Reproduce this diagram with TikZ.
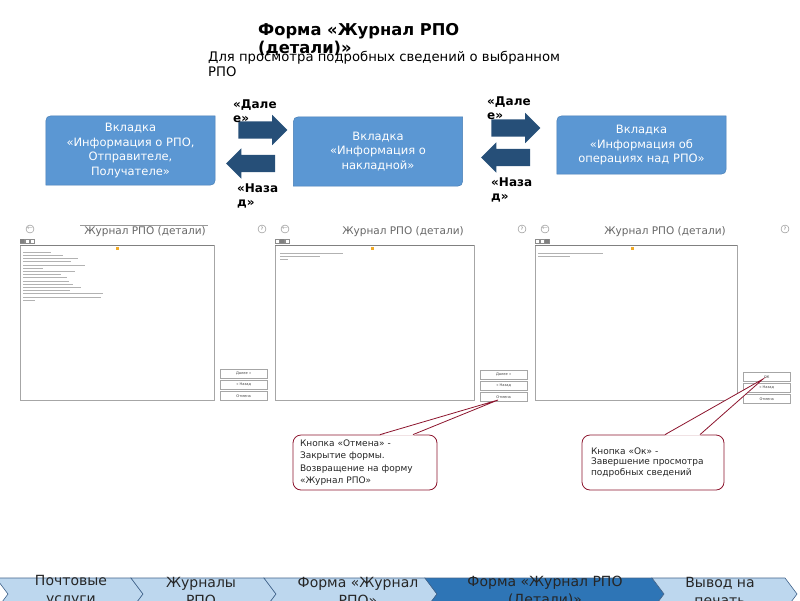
\documentclass[tikz,border=0pt]{standalone}
\usepackage{fontspec}
\setmainfont{DejaVu Sans}
\usepackage{xcolor}
\definecolor{tabBlue}{RGB}{91,151,211}
\definecolor{tabEdge}{RGB}{70,125,180}
\definecolor{arrowNavy}{RGB}{38,79,120}
\definecolor{noteRed}{RGB}{140,20,45}
\definecolor{crumbLight}{RGB}{189,215,238}
\definecolor{crumbDark}{RGB}{46,117,182}
\definecolor{crumbLine}{RGB}{65,100,140}
\definecolor{dotOrange}{RGB}{240,170,40}
\usepackage{tikz}
\usetikzlibrary{positioning,calc,shapes.arrows,backgrounds}

\begin{document}
\begin{tikzpicture}[
  tab/.style={text=white,align=center,
    font=\fontsize{11.5}{14.5}\selectfont,inner sep=0pt,minimum width=169pt},
  fwd/.style={single arrow,fill=arrowNavy,inner xsep=0pt,inner ysep=8.5pt,
    single arrow head extend=6.5pt,minimum height=49pt},
  bwd/.style={fwd,shape border rotate=180},
  hint/.style={font=\bfseries\fontsize{12}{14}\selectfont,align=left,inner sep=0pt,anchor=north west},
  formtitle/.style={font=\fontsize{10.5}{12}\selectfont,text=black!60,inner sep=0pt},
  icon/.style={circle,draw=black!50,line width=0.4pt,minimum size=8pt,inner sep=0pt,
    font=\fontsize{4.5}{4.5}\selectfont,text=black!60},
  btn/.style={draw=black!35,fill=white,line width=0.4pt,font=\fontsize{3.6}{4}\selectfont,
    text=black!75,inner sep=0pt,minimum width=47pt,minimum height=9pt,anchor=north west},
  textbar/.style={black!30,line width=0.9pt},
  callout/.style={draw=noteRed,fill=white,line width=0.8pt,rounded corners=8pt,
    align=left,font=\fontsize{9}{12.3}\selectfont,text=black!85,inner ysep=0pt},
  ptr/.style={noteRed,line width=0.8pt},
  crumb/.style={draw=crumbLine,line width=0.6pt},
  crumbtxt/.style={font=\fontsize{14}{18}\selectfont,align=center,inner sep=0pt,text=black!85},
  x=1pt,y=-1pt]

  \useasboundingbox (0,0) rectangle (800,600);
  \clip (0,0) rectangle (800,600);

  % heading
  \node[font=\bfseries\fontsize{16.3}{18}\selectfont,align=left,inner sep=0pt,anchor=north west]
    (formTitle) at (258,23) {Форма «Журнал РПО\\(детали)»};
  \node[font=\fontsize{13.2}{15}\selectfont,align=left,inner sep=0pt,anchor=north west]
    (formNote) at (208,51) {Для просмотра подробных сведений о выбранном\\РПО};

  % tabs of the form
  \node[tab,minimum height=69pt] (infoTab) at (130.5,150.5) {Вкладка\\«Информация о РПО,\\Отправителе,\\Получателе»};
  \node[tab,minimum height=69pt] (waybillTab) at (378,151.5) {Вкладка\\«Информация о\\накладной»};
  \node[tab,minimum height=58pt] (opsTab) at (641.5,145) {Вкладка\\«Информация об\\операциях над РПО»};
  \begin{scope}[on background layer]
    \foreach \t in {infoTab,waybillTab,opsTab}
      \filldraw[fill=tabBlue,draw=tabEdge,line width=0.5pt] (\t.south west)
        -- ($(\t.north west)+(0,11)$) .. controls (\t.north west) .. ($(\t.north west)+(11,0)$)
        -- (\t.north east) -- ($(\t.south east)+(0,-11)$)
        .. controls (\t.south east) .. ($(\t.south east)+(-11,0)$) -- cycle;
  \end{scope}

  \node[fwd] (next1) at (258.5,130) {};
  \node[bwd] (back1) at (255,163.5) {};
  \node[fwd] (next2) at (511.5,128) {};
  \node[bwd] (back2) at (510,157.5) {};
  \node[hint] (next1Lbl) at (233,100) {«Дале\\е»};
  \node[hint] (back1Lbl) at (237,184) {«Наза\\д»};
  \node[hint] (next2Lbl) at (487,97) {«Дале\\е»};
  \node[hint] (back2Lbl) at (491,178) {«Наза\\д»};

  % screenshots
  \foreach \p/\cx/\cw/\bx/\by/\tx/\first in {1/20/194/220/369/145/{Далее »},
      2/275/199/480/370/403/{Далее »},3/535/202/743/372/665/ОК}{
    \draw[black!35,line width=0.5pt] (\cx,245) rectangle ++(\cw,155);
    \draw[black!50,line width=0.9pt] (\cx,245) -- ++(\cw,0);
    \node[formtitle] (shotTitle\p) at (\tx,232) {Журнал РПО (детали)};
    \node[icon] (shotBack\p) at (\cx+10,229) {$\leftarrow$};
    \node[icon] (shotHelp\p) at (\bx+42,229) {?};
    \foreach \k in {0,1,2}
      \draw[black!45,line width=0.3pt] (\cx+5*\k,239) rectangle ++(4,4);
    \fill[black!50] (\cx+5*\p-5,239) rectangle ++(4,4);
    \fill[dotOrange] (\cx+96,247) rectangle ++(3,3);
    \node[btn] (nextBtn\p) at (\bx,\by) {\first};
    \node[btn] (backBtn\p) at (\bx,\by+11) {« Назад};
    \node[btn] (cancelBtn\p) at (\bx,\by+22) {Отмена};
  }
  \draw[black!40,line width=0.4pt] (80,225) -- (208,225);
  \foreach \w [count=\r] in {28,40,55,48,62,20,52,38,44,46,50,58,47,80,78,12}
    \draw[textbar] (23,249+3.2*\r) -- ++(\w,0);
  \foreach \w [count=\r] in {63,40,8}
    \draw[textbar] (280,250+3.3*\r) -- ++(\w,0);
  \foreach \w [count=\r] in {65,32}
    \draw[textbar] (538,250+3.3*\r) -- ++(\w,0);

  % notes
  \node[callout,text width=130pt,inner xsep=7pt,minimum height=55pt] (cancelNote) at (365,462.5)
    {Кнопка «Отмена» -\\Закрытие формы.\\Возвращение на форму\\«Журнал РПО»};
  \node[callout,text width=124pt,inner xsep=9pt,minimum height=55pt,font=\fontsize{9}{10.5}\selectfont]
    (okNote) at (653,462.5) {Кнопка «Ок» -\\Завершение просмотра\\подробных сведений};
  \coordinate (cancelTip) at (498,400);
  \coordinate (okTip) at (763,379);
  \fill[white] ([xshift=15pt,yshift=-1pt]cancelNote.north) -- (cancelTip) -- ([xshift=48pt,yshift=-1pt]cancelNote.north) -- cycle;
  \draw[ptr] ([xshift=15pt]cancelNote.north) -- (cancelTip) -- ([xshift=48pt]cancelNote.north);
  \fill[white] ([xshift=12pt,yshift=-1pt]okNote.north) -- (okTip) -- ([xshift=47pt,yshift=-1pt]okNote.north) -- cycle;
  \draw[ptr] ([xshift=12pt]okNote.north) -- (okTip) -- ([xshift=47pt]okNote.north);

  % breadcrumb
  \foreach \xa/\xb/\col in {-4/131/crumbLight,131/264/crumbLight,264/425/crumbLight,
      425/652/crumbDark,652/785/crumbLight}
    \draw[crumb,fill=\col] (\xa,578) -- (\xb,578) -- (\xb+12,594) -- (\xb,610)
      -- (\xa,610) -- (\xa+12,594) -- cycle;
  \node[crumbtxt] (crumb1) at (71,591) {Почтовые\\услуги};
  \node[crumbtxt] (crumb2) at (201,591) {Журналы\\РПО};
  \node[crumbtxt] (crumb3) at (358,591) {Форма «Журнал\\РПО»};
  \node[crumbtxt] (crumb4) at (545,591) {Форма «Журнал РПО\\(Детали)»};
  \node[crumbtxt] (crumb5) at (720,591) {Вывод на\\печать};
\end{tikzpicture}
\end{document}
